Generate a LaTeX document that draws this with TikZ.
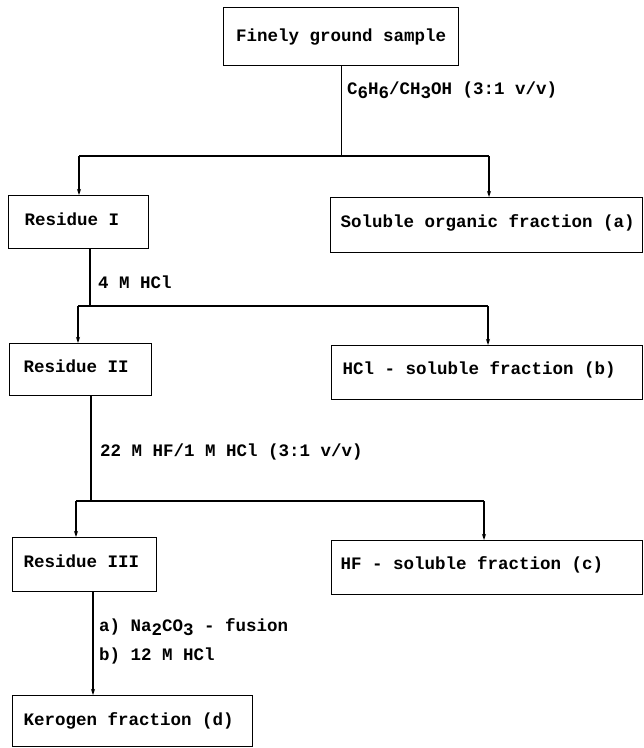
\documentclass[tikz,border=0pt]{standalone}
\usepackage{fontspec}
\newfontfamily\twfont{Liberation Mono}
\newcommand{\twsel}{\fontsize{17.5}{20}\selectfont\twfont\bfseries}
\usetikzlibrary{arrows.meta}
\newcommand{\lsub}[1]{\raisebox{-0.45ex}{#1}}
\newcommand{\lbx}[2]{\makebox[#1][l]{#2}}
\begin{document}
\begin{tikzpicture}[x=1pt,y=-1pt,
  every node/.style={font=\twsel},
  boxn/.style={draw, line width=1.1pt, anchor=north west, inner ysep=0pt},
  upper/.style={text depth=9pt},
  conn/.style={line width=1.1pt},
  arr/.style={line width=1.1pt, -{Stealth[length=6pt,width=4pt]}},
  lab/.style={anchor=west, inner sep=0pt}]
\useasboundingbox (0,0) rectangle (644,748);
\fill[white] (0,0) rectangle (644,748);
% boxes
\node[boxn, inner xsep=8pt, minimum height=58pt] (top) at (223,7) {\makebox[219pt][c]{Finely ground sample}};
\node[boxn, inner xsep=16pt, minimum height=53pt, text depth=6pt] (r1) at (8,195) {\lbx{108pt}{Residue I}};
\node[boxn, inner xsep=10pt, minimum height=55pt, upper] (fa) at (330,197) {\lbx{292pt}{Soluble organic fraction (a)}};
\node[boxn, inner xsep=14pt, minimum height=52pt, text depth=6pt] (r2) at (9,343) {\lbx{114pt}{Residue II}};
\node[boxn, inner xsep=11pt, minimum height=54pt, upper] (fb) at (331,345) {\lbx{289pt}{HCl - soluble fraction (b)}};
\node[boxn, inner xsep=11pt, minimum height=54pt, text depth=6pt] (r3) at (12,537) {\lbx{122pt}{Residue III}};
\node[boxn, inner xsep=9pt, minimum height=54pt, upper] (fc) at (331,540) {\lbx{293pt}{HF - soluble fraction (c)}};
\node[boxn, inner xsep=11pt, minimum height=51pt] (kd) at (12,695) {\lbx{218pt}{Kerogen fraction (d)}};
% junctions
\coordinate (h1l) at (79,156);
\coordinate (h1r) at (489,156);
\coordinate (h2l) at (78,306);
\coordinate (h2r) at (488,306);
\coordinate (h3l) at (76,501);
\coordinate (h3r) at (484,501);
% step 1
\draw[conn] (top.south) -- (top.south |- h1l);
\draw[conn] (h1l) -- (h1r);
\draw[arr] (h1l) -- (h1l |- r1.north);
\draw[arr] (h1r) -- (h1r |- fa.north);
% step 2
\coordinate (s2) at (90,0);
\draw[conn] (s2 |- r1.south) -- (s2 |- h2l);
\draw[conn] (h2l) -- (h2r);
\draw[arr] (h2l) -- (h2l |- r2.north);
\draw[arr] (h2r) -- (h2r |- fb.north);
% step 3
\coordinate (s3) at (91,0);
\draw[conn] (s3 |- r2.south) -- (s3 |- h3l);
\draw[conn] (h3l) -- (h3r);
\draw[arr] (h3l) -- (h3l |- r3.north);
\draw[arr] (h3r) -- (h3r |- fc.north);
% step 4
\coordinate (s4) at (93,0);
\draw[arr] (s4 |- r3.south) -- (s4 |- kd.north);
% labels
\node[lab] (l1) at (347,90) {C\lsub{6}H\lsub{6}/CH\lsub{3}OH (3:1 v/v)};
\node[lab] (l2) at (98,282) {4 M HCl};
\node[lab] (l3) at (100,452) {22 M HF/1 M HCl (3:1 v/v)};
\node[lab] (l4) at (99,627) {a) Na\lsub{2}CO\lsub{3} - fusion};
\node[lab] (l5) at (99,656) {b) 12 M HCl};
\end{tikzpicture}
\end{document}
